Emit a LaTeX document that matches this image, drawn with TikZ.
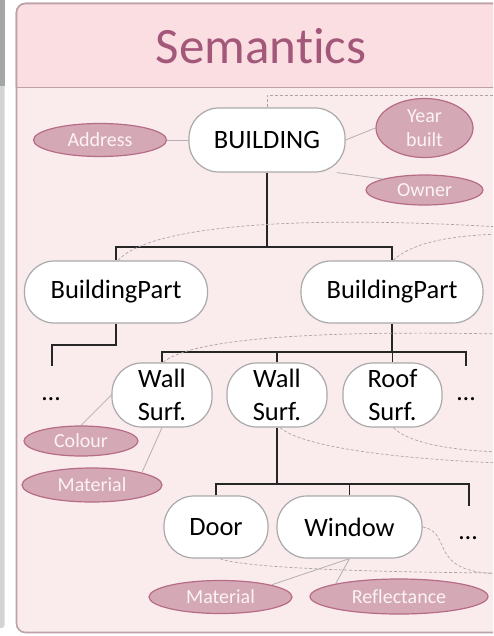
\documentclass[tikz,border=0pt]{standalone}
\usepackage{fontspec}
\setmainfont[Ligatures={NoCommon,NoContextual}]{Carlito}
\definecolor{hdrfill}{HTML}{FBDEE2}
\definecolor{bodyfill}{HTML}{FAEBED}
\definecolor{panelline}{HTML}{BCA2A7}
\definecolor{titlecol}{HTML}{A3587A}
\definecolor{attrfill}{HTML}{D5A8B6}
\definecolor{attrline}{HTML}{B66C86}
\definecolor{attrtext}{HTML}{FBF3F5}
\definecolor{nodeline}{HTML}{A9A9A9}
\definecolor{thinline}{HTML}{B4B0B1}
\definecolor{dashcol}{HTML}{ABA5A7}
\tikzset{
  classbox/.style={draw=nodeline, line width=1.2pt, fill=white, rounded corners=30pt,
    inner sep=0pt, align=center, font=\fontsize{26.5}{33}\selectfont, text=black},
  attr/.style={ellipse, draw=attrline, line width=1.2pt, fill=attrfill, inner sep=0pt,
    align=center, text=attrtext, font=\fontsize{20}{24}\selectfont},
  treeline/.style={draw=black!85, line width=1.3pt},
  attrlink/.style={draw=thinline, line width=0.8pt},
  dsh/.style={draw=dashcol, line width=0.7pt, dash pattern=on 3pt off 2pt},
  dotsnode/.style={inner sep=0pt, font=\fontsize{26}{30}\selectfont}
}
\usetikzlibrary{shapes.geometric}
\begin{document}
\begin{tikzpicture}[x=1pt, y=-1pt]
\useasboundingbox (0,0) rectangle (493,636);
\clip (0,0) rectangle (493,636);
% left gray strip
\fill[black!17, rounded corners=3pt] (-5,-5) rectangle (4.5,628);
\fill[black!35] (-5,-5) rectangle (4.5,86);
% panel
\draw[panelline, line width=1.6pt, fill=bodyfill, rounded corners=9pt] (16.5,3.5) rectangle (530,632.5);
\draw[panelline, line width=1.6pt, fill=hdrfill, rounded corners=9pt] (16.5,87.5) -- (16.5,3.5) -- (530,3.5) -- (530,87.5);
\draw[panelline, line width=1.6pt] (16.5,87.5) -- (530,87.5);
\node[text=titlecol, font=\fontsize{51}{60}\selectfont, inner sep=0pt] (title) at (261,46) {Semantics};

% class nodes
\node[classbox, minimum width=156pt, minimum height=64pt] (building) at (267,140) {BUILDING};
\node[classbox, minimum width=183pt, minimum height=62pt] (bp1) at (116,292) {BuildingPart};
\node[classbox, minimum width=182pt, minimum height=62pt] (bp2) at (392,292) {BuildingPart};
\node[classbox, minimum width=100pt, minimum height=64pt] (ws1) at (162,395) {Wall\\Surf.};
\node[classbox, minimum width=100pt, minimum height=64pt] (ws2) at (277,395) {Wall\\Surf.};
\node[classbox, minimum width=99pt, minimum height=64pt] (rs) at (392.5,395) {Roof\\Surf.};
\node[classbox, minimum width=104pt, minimum height=62pt] (door) at (216,527) {Door};
\node[classbox, minimum width=145pt, minimum height=62pt] (window) at (349.5,527) {Window};

% dots
\node[dotsnode] (dots1) at (51,399) {…};
\node[dotsnode] (dots2) at (466,399) {…};
\node[dotsnode] (dots3) at (468,538) {…};

% attribute ellipses
\node[attr, minimum width=133pt, minimum height=33pt] (address) at (100,140) {Address};
\node[attr, minimum width=97pt, minimum height=59pt] (year) at (424.5,128) {Year\\built};
\node[attr, minimum width=117pt, minimum height=30pt] (owner) at (424.5,190) {Owner};
\node[attr, minimum width=114pt, minimum height=30pt] (colour) at (81,441) {Colour};
\node[attr, minimum width=140pt, minimum height=34pt] (mat1) at (92,485) {Material};
\node[attr, minimum width=143pt, minimum height=33pt] (mat2) at (220.5,597) {Material};
\node[attr, minimum width=178pt, minimum height=35pt] (refl) at (399,596.5) {Reflectance};

% tree connectors
\coordinate (j1) at (267,247);
\coordinate (j2) at (392,352);
\coordinate (j3) at (277,484);
\coordinate (j4) at (116,345);
\coordinate (dend1) at (52,366);
\coordinate (dend2) at (466,366);
\coordinate (dend3) at (469,506);
\draw[treeline] (building.south) -- (j1);
\draw[treeline] (bp1.north) -- (bp1.north |- j1) -- (bp2.north |- j1) -- (bp2.north);
\draw[treeline] (bp1.south) -- (j4) -- (dend1 |- j4) -- (dend1);
\draw[treeline] (bp2.south) -- (j2);
\draw[treeline] (ws1.north) -- (ws1.north |- j2) -- (dend2 |- j2) -- (dend2);
\draw[treeline] (ws2.north) -- (ws2.north |- j2);
\draw[treeline] (rs.north) -- (rs.north |- j2);
\draw[treeline] (ws2.south) -- (j3);
\draw[treeline] (door.north) -- (door.north |- j3) -- (dend3 |- j3) -- (dend3);
\draw[treeline] (window.north) -- (window.north |- j3);

% attribute links
\draw[attrlink] (address.east) -- (building.west);
\draw[attrlink] (building.east) -- (year.west);
\draw[attrlink] (building.-25) -- (owner.north west);
\draw[attrlink] (ws1.west) -- (colour.north);
\draw[attrlink] (ws1.south) -- (mat1.north east);
\draw[attrlink] (window.south) -- (mat2.north east);
\draw[attrlink] (window.south) -- (refl.north west);

% dashed links
\coordinate (e1) at (500,95);
\coordinate (e2) at (500,227);
\coordinate (e3) at (500,234);
\coordinate (e4) at (500,334);
\coordinate (e5) at (500,463);
\coordinate (e6) at (500,452);
\coordinate (e7) at (500,573);
\coordinate (e8) at (500,574);
\draw[dsh] (building.north) -- (building.north |- e1) -- (e1);
\draw[dsh] ([xshift=2pt]bp1.north) .. controls (150,225) and (300,215) .. (e2);
\draw[dsh] ([xshift=1pt]bp2.north) .. controls (410,245) and (440,236) .. (e3);
\draw[dsh] ([xshift=1pt]ws1.north) .. controls (190,340) and (300,330) .. (e4);
\draw[dsh] ([xshift=3pt]ws2.south) .. controls (300,445) and (380,458) .. (e5);
\draw[dsh] ([xshift=1pt]rs.south) .. controls (405,440) and (440,450) .. (e6);
\draw[dsh] ([xshift=4pt]door.south) .. controls (240,567) and (350,572) .. (e7);
\draw[dsh] (window.east) .. controls (440,530) and (440,545) .. (447,555) .. controls (455,567) and (470,573) .. (e8);
\end{tikzpicture}
\end{document}
